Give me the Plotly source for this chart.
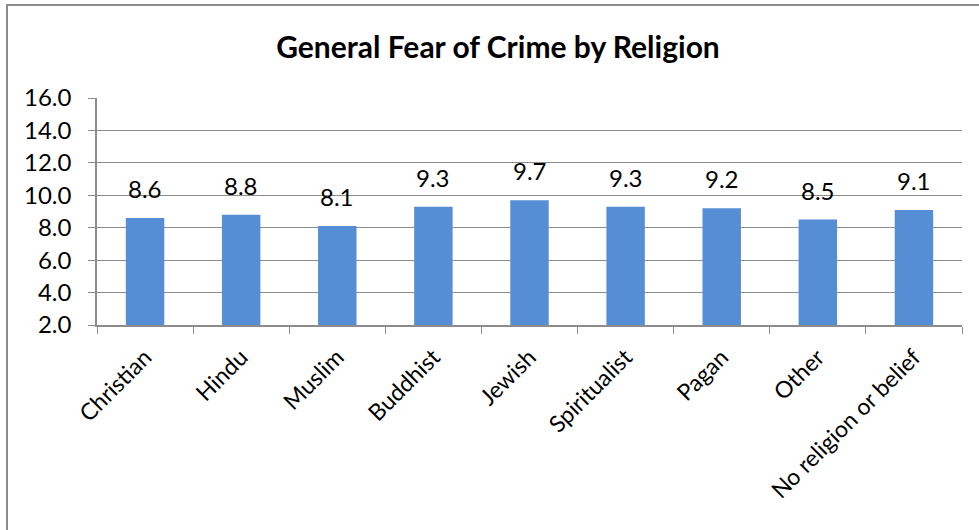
import plotly.graph_objects as go

categories = ["Christian", "Hindu", "Muslim", "Buddhist", "Jewish",
              "Spiritualist", "Pagan", "Other", "No religion or belief"]
values = [8.6, 8.8, 8.1, 9.3, 9.7, 9.3, 9.2, 8.5, 9.1]
y_ticks = [2, 4, 6, 8, 10, 12, 14, 16]

FONT = "Lato, 'Open Sans', sans-serif"
W, H = 979, 530
ML, MR, MT, MB = 97, 17, 98, 205
pw = W - ML - MR
ph = H - MT - MB

fig = go.Figure()
fig.add_trace(go.Bar(
    x=categories, y=values,
    marker=dict(color="#558ED5", line=dict(width=0)),
    width=0.4,
    hoverinfo="x+y",
))

for c, v in zip(categories, values):
    fig.add_annotation(x=c, y=v, text=f"{v:.1f}", showarrow=False,
                       yanchor="bottom", yshift=13,
                       font=dict(family=FONT, size=24, color="#000"))

# outer chart border
fig.add_shape(type="rect", xref="paper", yref="paper",
              x0=(7 - ML) / pw, x1=(W + 20 - ML) / pw,
              y0=-(MB + 20) / ph, y1=1 + (MT - 5) / ph,
              line=dict(color="#8c8c8c", width=2), layer="below")

fig.update_layout(
    width=W, height=H,
    margin=dict(l=ML, r=MR, t=MT, b=MB),
    paper_bgcolor="white", plot_bgcolor="white",
    showlegend=False,
    title=dict(text="<b>General Fear of Crime by Religion</b>",
               x=498 / W, xref="container", xanchor="center",
               y=1 - 47 / H, yref="container", yanchor="middle",
               font=dict(family=FONT, size=30, color="#000")),
    font=dict(family=FONT, size=24, color="#000"),
)
fig.update_xaxes(
    tickangle=-45, tickson="boundaries", ticks="outside", ticklen=7,
    tickcolor="#8c8c8c", showline=True, linecolor="#8c8c8c", linewidth=1.5,
    showgrid=False, ticklabelstandoff=8,
    tickfont=dict(family=FONT, size=23, color="#000"),
)
fig.update_yaxes(
    range=[2, 16], tickvals=y_ticks, ticktext=[f"{t:.1f}" for t in y_ticks],
    ticks="outside", ticklen=7, tickcolor="#8c8c8c",
    showline=True, linecolor="#8c8c8c", linewidth=1.5,
    showgrid=True, gridcolor="#8c8c8c", gridwidth=1,
    zeroline=False, ticklabelstandoff=12,
    tickfont=dict(family=FONT, size=24, color="#000"),
)

fig.write_html("out.html", config={"displayModeBar": False},
               post_script="document.body.style.margin='0';document.body.style.overflow='hidden';")
